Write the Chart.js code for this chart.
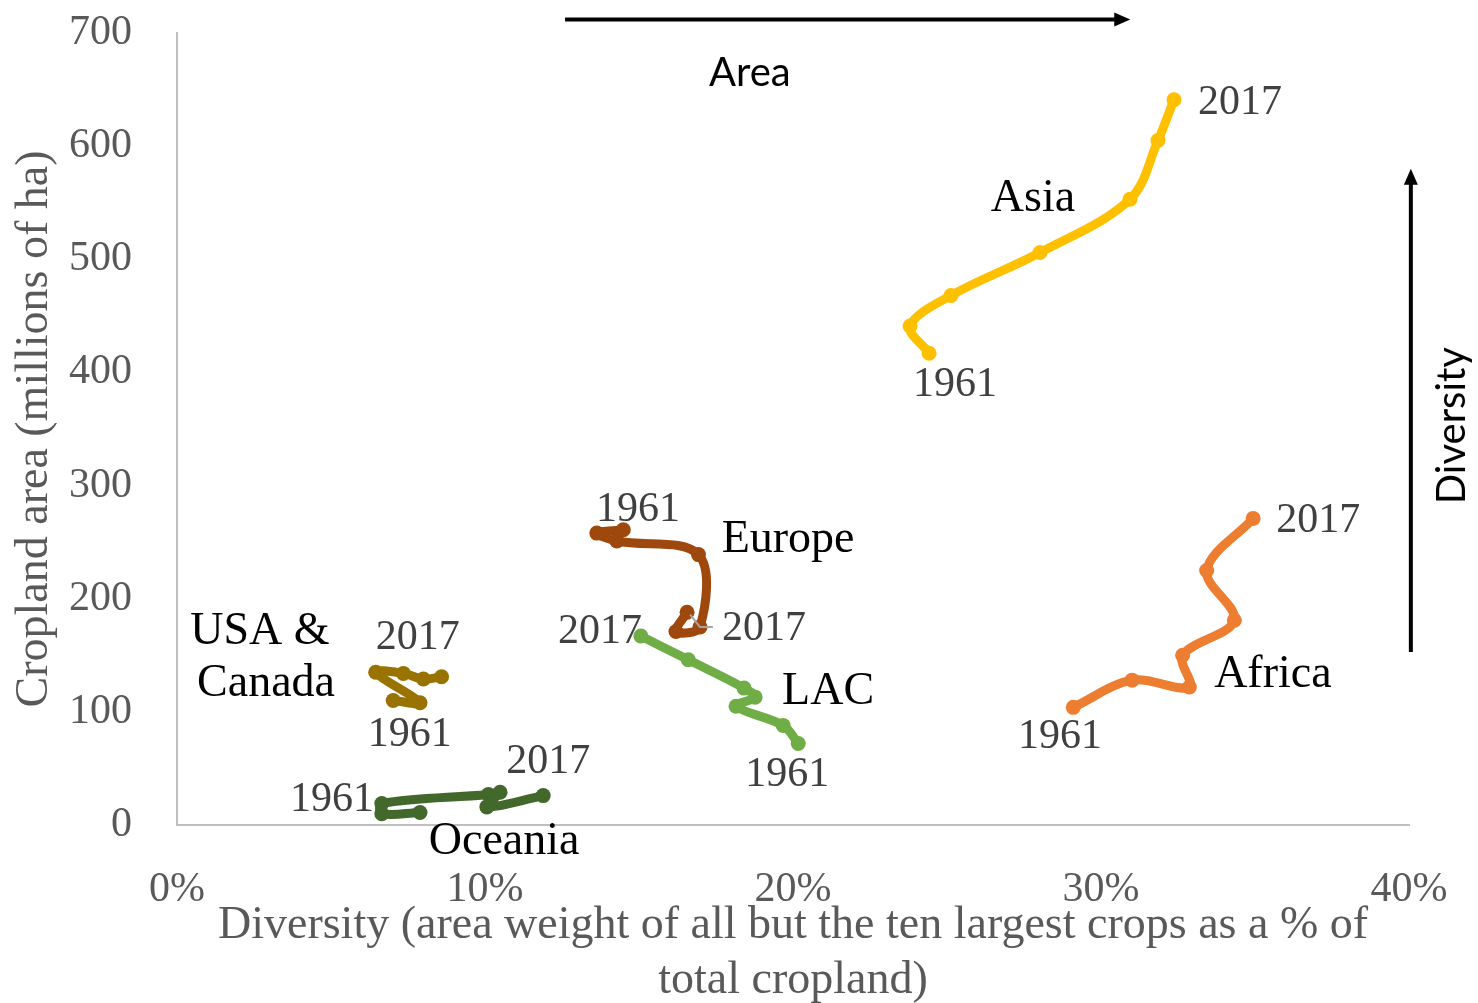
<!DOCTYPE html>
<html>
<head>
<meta charset="utf-8">
<script src="https://cdn.jsdelivr.net/npm/chart.js@4.4.0/dist/chart.umd.min.js"></script>
<style>
  body { margin: 0; background: #fff; }
  canvas { display: block; }
</style>
</head>
<body>
<canvas id="chart" width="1478" height="1003"></canvas>
<script>
// regions, in order drawn
const regions = ['Asia', 'Africa', 'Europe', 'LAC', 'USA & Canada', 'Oceania'];

// diversity (% of cropland) and cropland (millions of ha)
const asiaX = [24.42, 23.80, 25.13, 28.02, 30.94, 31.85, 32.37];
const asiaY = [417, 441, 468, 506, 553, 605, 641];

const africaX = [29.10, 31.01, 32.87, 32.65, 34.33, 33.43, 34.94];
const africaY = [104, 128, 122, 150, 181, 225, 271];

const europeX = [14.49, 13.63, 14.28, 16.93, 16.98, 16.20, 16.56];
const europeY = [261, 258, 251, 239, 175, 171, 188];

const lacX = [20.17, 19.68, 18.15, 18.77, 18.41, 16.60, 15.06];
const lacY = [72, 88, 105, 113, 121, 146, 167];

const usaX = [7.02, 7.89, 6.45, 7.35, 8.00, 8.59];
const usaY = [110, 108, 135, 134, 129, 131];

const oceaniaX = [7.89, 6.65, 6.65, 10.11, 10.49, 10.06, 11.89];
const oceaniaY = [11, 10, 19, 27, 29, 16, 26];

const colors = ['#FFC000', '#ED7D31', '#9E480E', '#70AD47', '#997300', '#43682B'];

const xTicks = [0, 10, 20, 30, 40];
const yTicks = [0, 100, 200, 300, 400, 500, 600, 700];

// text placed on the plot, in data units
const yearLabels = [
  { text: '2017', x: 34.51, y: 638 }, { text: '1961', x: 25.26, y: 389 },
  { text: '2017', x: 37.05, y: 269 }, { text: '1961', x: 28.67, y: 78 },
  { text: '1961', x: 14.97, y: 278 }, { text: '2017', x: 19.06, y: 173 },
  { text: '2017', x: 13.73, y: 171 }, { text: '1961', x: 19.81, y: 44 },
  { text: '2017', x: 7.82, y: 165 }, { text: '1961', x: 7.56, y: 80 },
  { text: '1961', x: 5.03, y: 22 }, { text: '2017', x: 12.05, y: 56 }
];
const nameLabels = [
  { text: 'Asia', x: 27.79, y: 553 },
  { text: 'Africa', x: 35.58, y: 133 },
  { text: 'Europe', x: 19.84, y: 252 },
  { text: 'LAC', x: 21.14, y: 118 },
  { text: 'USA &', x: 2.69, y: 171 },
  { text: 'Canada', x: 2.89, y: 125 },
  { text: 'Oceania', x: 10.62, y: -15 }
];

function pts(xs, ys) {
  return xs.map((x, i) => ({ x: x, y: ys[i] }));
}

const series = [
  pts(asiaX, asiaY), pts(africaX, africaY), pts(europeX, europeY),
  pts(lacX, lacY), pts(usaX, usaY), pts(oceaniaX, oceaniaY)
];

const serif = '"Liberation Serif", "Times New Roman", serif';

const textPlugin = {
  id: 'plotText',
  afterDatasetsDraw(chart) {
    const ctx = chart.ctx;
    const xs = chart.scales.x, ys = chart.scales.y;
    const px = v => xs.getPixelForValue(v);
    const py = v => ys.getPixelForValue(v);
    ctx.save();
    ctx.textAlign = 'center';
    ctx.textBaseline = 'middle';

    // leader line for Europe 2017
    ctx.strokeStyle = '#A6A6A6';
    ctx.lineWidth = 2;
    ctx.beginPath();
    ctx.moveTo(px(16.66), py(186));
    ctx.lineTo(px(16.98), py(175));
    ctx.lineTo(px(17.4), py(175));
    ctx.stroke();

    ctx.font = '42px ' + serif;
    ctx.fillStyle = '#404040';
    yearLabels.forEach(l => ctx.fillText(l.text, px(l.x), py(l.y)));

    ctx.font = '46px ' + serif;
    ctx.fillStyle = '#000';
    nameLabels.forEach(l => ctx.fillText(l.text, px(l.x), py(l.y)));

    // arrows
    ctx.strokeStyle = '#000';
    ctx.fillStyle = '#000';
    ctx.lineWidth = 4;
    const ax0 = px(12.6), ax1 = px(30.95), ay = py(712);
    ctx.beginPath();
    ctx.moveTo(ax0, ay);
    ctx.lineTo(ax1 - 12, ay);
    ctx.stroke();
    ctx.beginPath();
    ctx.moveTo(ax1, ay);
    ctx.lineTo(ax1 - 16, ay - 7);
    ctx.lineTo(ax1 - 16, ay + 7);
    ctx.closePath();
    ctx.fill();

    const vx = px(40.06), vy0 = py(153), vy1 = py(580);
    ctx.beginPath();
    ctx.moveTo(vx, vy0);
    ctx.lineTo(vx, vy1 + 12);
    ctx.stroke();
    ctx.beginPath();
    ctx.moveTo(vx, vy1);
    ctx.lineTo(vx - 7, vy1 + 16);
    ctx.lineTo(vx + 7, vy1 + 16);
    ctx.closePath();
    ctx.fill();

    ctx.font = '40px Lato, "Open Sans", sans-serif';
    ctx.fillText('Area', px(18.6), py(665));
    ctx.translate(px(41.4), py(353));
    ctx.rotate(-Math.PI / 2);
    ctx.fillText('Diversity', 0, 0);
    ctx.restore();
  }
};

const ctx = document.getElementById('chart').getContext('2d');
const chart = new Chart(ctx, {
  type: 'scatter',
  data: {
    datasets: regions.map((name, i) => ({
      label: name,
      data: series[i],
      showLine: true,
      tension: 0.35,
      borderColor: colors[i],
      backgroundColor: colors[i],
      borderWidth: 9,
      borderCapStyle: 'round',
      borderJoinStyle: 'round',
      pointRadius: 7.5,
      pointHoverRadius: 7.5,
      pointBorderWidth: 0
    }))
  },
  options: {
    responsive: false,
    animation: false,
    devicePixelRatio: 1,
    layout: { padding: { top: 33, right: 69, left: 0, bottom: 0 } },
    plugins: { legend: { display: false }, tooltip: { enabled: false } },
    scales: {
      x: {
        type: 'linear',
        min: 0,
        max: 40,
        afterBuildTicks: s => { s.ticks = xTicks.map(v => ({ value: v })); },
        afterFit: s => { s.height = 178; s.paddingLeft = 0; s.paddingRight = 0; },
        ticks: {
          callback: v => v + '%',
          color: '#595959',
          font: { family: serif, size: 42 },
          padding: 32,
          maxRotation: 0
        },
        grid: { display: false },
        border: { color: '#BFBFBF', width: 2 },
        title: {
          display: true,
          text: ['Diversity (area weight of all but the ten largest crops as a % of', 'total cropland)'],
          color: '#595959',
          font: { family: serif, size: 46, lineHeight: 1.2 },
          padding: { top: 0, bottom: -6 }
        }
      },
      y: {
        min: 0,
        max: 700,
        afterBuildTicks: s => { s.ticks = yTicks.map(v => ({ value: v })); },
        afterFit: s => { s.width = 177; s.paddingTop = 0; s.paddingBottom = 0; },
        ticks: {
          color: '#595959',
          font: { family: serif, size: 42 },
          padding: 37
        },
        grid: { display: false },
        border: { color: '#BFBFBF', width: 2 },
        title: {
          display: true,
          text: 'Cropland area (millions of ha)',
          color: '#595959',
          font: { family: serif, size: 46, lineHeight: 1.2 },
          padding: { top: 7, bottom: 0 }
        }
      }
    }
  },
  plugins: [textPlugin]
});
</script>
</body>
</html>
